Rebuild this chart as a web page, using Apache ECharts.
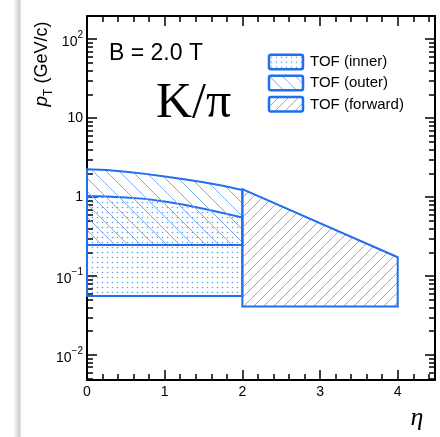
<!DOCTYPE html>
<html><head><meta charset="utf-8">
<script src="https://cdn.jsdelivr.net/npm/echarts@6/dist/echarts.min.js"></script>
<style>html,body{margin:0;padding:0;background:#fff}#c{width:440px;height:437px}</style>
</head><body><div id="c"></div>
<script>
// ---- data ----
const etaMajorTicks = [0, 1, 2, 3, 4];
const pTMajorTicks = [0.01, 0.1, 1, 10, 100];
const pTLabelBase = ['10', '10', '1', '10', '10'];
const pTLabelExp = ['\u22122', '\u22121', '', '', '2'];
const etaRange = [0, 4.48];
const pTRange = [0.00482, 197];

const innerEta = [0, 0.25, 0.5, 0.75, 1.0, 1.25, 1.5, 1.75, 2.0];
const innerTop = [1.03, 1.02, 0.99, 0.95, 0.88, 0.80, 0.71, 0.63, 0.55];
const innerBottomEta = [0, 2];
const innerBottom = [0.056, 0.056];

const outerEta = [0, 0.25, 0.5, 0.75, 1.0, 1.25, 1.5, 1.75, 2.0];
const outerTop = [2.25, 2.20, 2.10, 1.97, 1.82, 1.68, 1.54, 1.39, 1.23];
const outerBottomEta = [0, 2];
const outerBottom = [0.247, 0.247];

const forwardEta = [2, 4];
const forwardTop = [1.26, 0.173];
const forwardBottomEta = [2, 4];
const forwardBottom = [0.041, 0.041];

const legendNames = ['TOF (inner)', 'TOF (outer)', 'TOF (forward)'];

// ---- styling helpers ----
const BLUE = '#1f6fef';
const HATCH = '#7eabef';
const L = v => Math.log10(v);

function makeDots() {
  const c = document.createElement('canvas'); c.width = 5; c.height = 5;
  const g = c.getContext('2d');
  g.fillStyle = 'rgba(60,130,240,0.8)';
  g.beginPath(); g.arc(2.5, 2.5, 0.8, 0, Math.PI * 2); g.fill();
  return { image: c, repeat: 'repeat' };
}
function makeHatch(w, h, back) {
  const c = document.createElement('canvas'); c.width = w; c.height = h;
  const g = c.getContext('2d');
  g.strokeStyle = HATCH; g.lineWidth = 1;
  for (let off = -1; off <= 1; off++) {
    g.beginPath();
    if (back) { g.moveTo(off * w, 0); g.lineTo(off * w + w, h); }
    else { g.moveTo(off * w, h); g.lineTo(off * w + w, 0); }
    g.stroke();
  }
  return { image: c, repeat: 'repeat' };
}
const patDots = makeDots();
const patBack = makeHatch(13, 13, true);
const patFwd = makeHatch(10, 10, false);

function band(etaT, topV, etaB, botV, pattern) {
  return function (params, api) {
    const pts = [];
    for (let i = 0; i < etaT.length; i++) pts.push(api.coord([etaT[i], L(topV[i])]));
    for (let i = etaB.length - 1; i >= 0; i--) pts.push(api.coord([etaB[i], L(botV[i])]));
    return { type: 'polygon', shape: { points: pts },
      style: { fill: pattern, stroke: BLUE, lineWidth: 2, lineJoin: 'miter' } };
  };
}

// tick positions
const xMinor = [];
for (let i = 1; i <= 22; i++) { const v = +(i * 0.2).toFixed(1); if (Math.abs(v - Math.round(v)) > 1e-6) xMinor.push(v); }
const yMajor = pTMajorTicks.map(L);
const yMinor = [];
for (let k = -3; k <= 2; k++) for (let m = 2; m <= 9; m++) {
  const v = L(m * Math.pow(10, k));
  if (v >= L(pTRange[0]) && v <= L(pTRange[1])) yMinor.push(v);
}

const FONT = 'Liberation Sans, Arial, sans-serif';
const axisLineStyle = { color: '#000', width: 2 };
const tickStyle = { color: '#000', width: 1.5 };

function xAx(pos, vals, len, showLine, showLabel) {
  return {
    type: 'value', position: pos, min: etaRange[0], max: etaRange[1],
    axisLine: { show: showLine, onZero: false, lineStyle: axisLineStyle },
    axisTick: { show: true, inside: true, length: len, customValues: vals, lineStyle: tickStyle },
    axisLabel: showLabel ? { show: true, customValues: etaMajorTicks, margin: 5, fontSize: 14, color: '#000', fontFamily: FONT,
      formatter: v => String(Math.round(v)) } : { show: false },
    splitLine: { show: false }
  };
}
function yAx(pos, vals, len, showLine, showLabel) {
  return {
    type: 'value', position: pos, min: L(pTRange[0]), max: L(pTRange[1]),
    axisLine: { show: showLine, onZero: false, lineStyle: axisLineStyle },
    axisTick: { show: true, inside: true, length: len, customValues: vals, lineStyle: tickStyle },
    axisLabel: showLabel ? {
      show: true, customValues: yMajor, margin: 4, color: '#000', fontFamily: FONT,
      formatter: function (v) {
        let idx = 0, best = 1e9;
        yMajor.forEach((t, i) => { if (Math.abs(t - v) < best) { best = Math.abs(t - v); idx = i; } });
        if (!pTLabelExp[idx]) return '{n|' + pTLabelBase[idx] + '}';
        return '{b|' + pTLabelBase[idx] + '}{s|' + pTLabelExp[idx] + '}';
      },
      rich: {
        n: { fontSize: 14, fontFamily: FONT, color: '#000', lineHeight: 16 },
        b: { fontSize: 14, fontFamily: FONT, color: '#000', lineHeight: 16, padding: [6, 0, 0, 0] },
        s: { fontSize: 10, fontFamily: FONT, color: '#000', lineHeight: 18, verticalAlign: 'top' }
      }
    } : { show: false },
    splitLine: { show: false }
  };
}

const legendY = [54.7, 75.7, 97];
const legendPats = [patDots, patBack, patFwd];
const graphics = [
  { type: 'rect', x: 13, y: 0, shape: { width: 7.5, height: 437 }, silent: true,
    style: { fill: { type: 'linear', x: 0, y: 0, x2: 1, y2: 0,
      colorStops: [{ offset: 0, color: 'rgba(0,0,0,0)' }, { offset: 1, color: 'rgba(0,0,0,0.22)' }] } } },
  { type: 'text', x: 109, y: 54, style: { text: 'B = 2.0 T', font: '23px ' + FONT, fill: '#000',
      textAlign: 'left', align: 'left', textVerticalAlign: 'middle', verticalAlign: 'middle' } },
  { type: 'text', x: 156, y: 104, style: { text: 'K/\u03c0', font: '50px Liberation Serif, Times New Roman, serif', fill: '#000',
      textAlign: 'left', align: 'left', textVerticalAlign: 'middle', verticalAlign: 'middle' } },
  { type: 'text', x: 417, y: 418, style: { text: '\u03b7', font: 'italic 26px Liberation Serif, Times New Roman, serif', fill: '#000',
      textAlign: 'center', align: 'center', textVerticalAlign: 'middle', verticalAlign: 'middle' } },
  { type: 'text', x: 42, y: 64, rotation: Math.PI / 2,
    style: { text: '{p|p}{t|T}{u| (GeV/c)}', fill: '#000',
      textAlign: 'center', align: 'center', textVerticalAlign: 'middle', verticalAlign: 'middle',
      rich: {
        p: { fontSize: 19, fontStyle: 'italic', fontFamily: FONT, fill: '#000', color: '#000', lineHeight: 20 },
        t: { fontSize: 12, fontFamily: FONT, fill: '#000', color: '#000', lineHeight: 26, verticalAlign: 'bottom' },
        u: { fontSize: 18, fontFamily: FONT, fill: '#000', color: '#000', lineHeight: 20 }
      } } }
];
legendNames.forEach((name, i) => {
  graphics.push({ type: 'rect', x: 269, y: legendY[i], shape: { width: 34, height: 14.5, r: 2 },
    style: { fill: legendPats[i], stroke: BLUE, lineWidth: 2.5 } });
  graphics.push({ type: 'text', x: 310, y: legendY[i] + 7.5, style: { text: name, font: '15px ' + FONT, fill: '#000',
    textAlign: 'left', align: 'left', textVerticalAlign: 'middle', verticalAlign: 'middle' } });
});

const chart = echarts.init(document.getElementById('c'), null, { renderer: 'canvas' });
chart.setOption({
  animation: false,
  backgroundColor: '#fff',
  grid: { left: 87, right: 5, top: 16, bottom: 57 },
  xAxis: [
    xAx('bottom', etaMajorTicks, 10, true, true),
    xAx('bottom', xMinor, 6, false, false),
    xAx('top', etaMajorTicks, 10, true, false),
    xAx('top', xMinor, 6, false, false)
  ],
  yAxis: [
    yAx('left', yMajor, 10, true, true),
    yAx('left', yMinor, 6, false, false),
    yAx('right', yMajor, 10, true, false),
    yAx('right', yMinor, 6, false, false)
  ],
  series: [
    { type: 'custom', name: legendNames[0], xAxisIndex: 0, yAxisIndex: 0, data: [[0, 0]],
      renderItem: band(innerEta, innerTop, innerBottomEta, innerBottom, patDots) },
    { type: 'custom', name: legendNames[1], xAxisIndex: 0, yAxisIndex: 0, data: [[0, 0]],
      renderItem: band(outerEta, outerTop, outerBottomEta, outerBottom, patBack) },
    { type: 'custom', name: legendNames[2], xAxisIndex: 0, yAxisIndex: 0, data: [[0, 0]],
      renderItem: band(forwardEta, forwardTop, forwardBottomEta, forwardBottom, patFwd) }
  ],
  graphic: graphics
});
</script></body></html>
